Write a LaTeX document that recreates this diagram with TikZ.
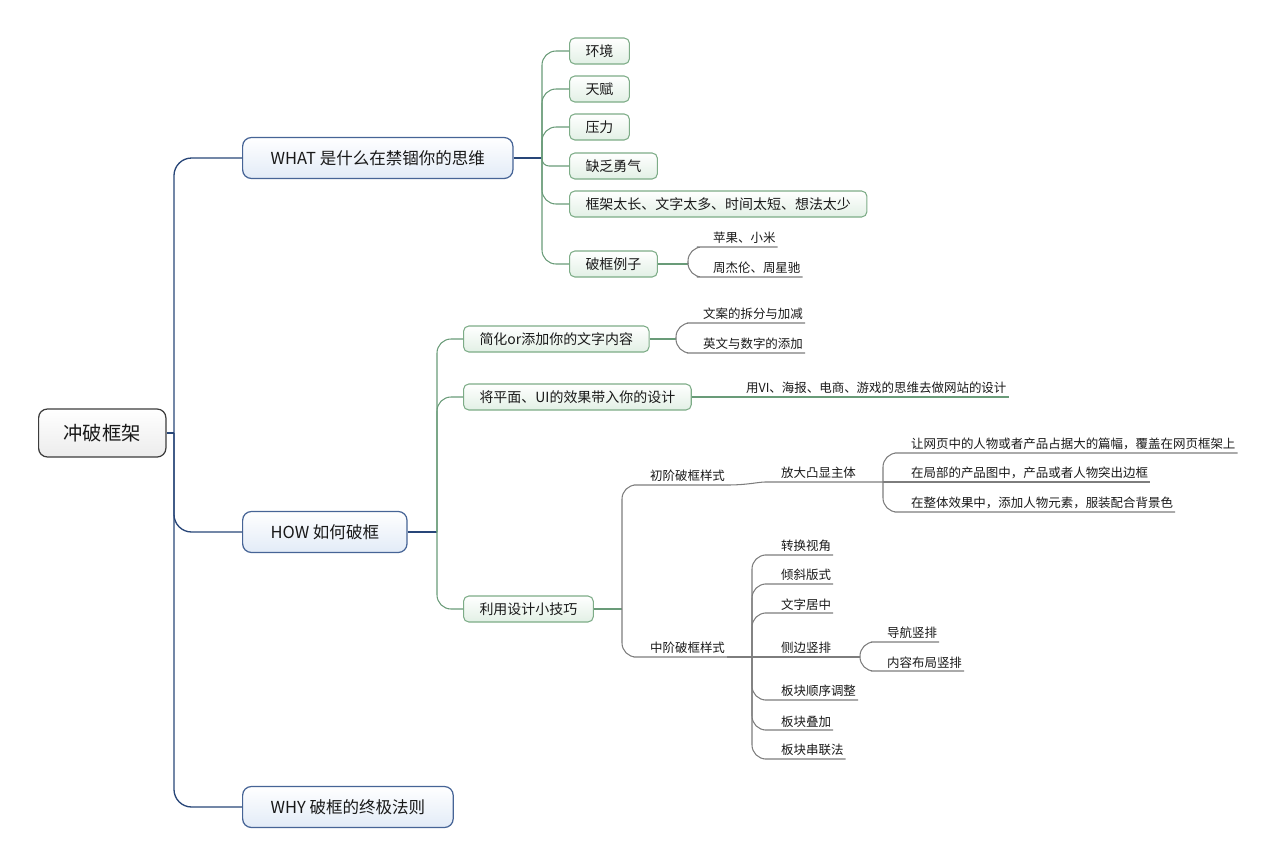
\documentclass[tikz,border=0pt]{standalone}
\usepackage{fontspec}
\setmainfont{Noto Sans CJK SC}
\usepackage{xcolor}
\usepackage{tikz}

\definecolor{rootline}{RGB}{60,60,60}
\definecolor{rootfill}{RGB}{236,236,236}
\definecolor{topicline}{RGB}{70,100,150}
\definecolor{topicfill}{RGB}{226,235,247}
\definecolor{subline}{RGB}{125,172,135}
\definecolor{subfill}{RGB}{226,240,229}
\definecolor{bluewire}{RGB}{40,70,120}
\definecolor{greenwire}{RGB}{105,155,120}
\definecolor{graywire}{RGB}{125,125,125}
\definecolor{inktext}{RGB}{25,25,25}

\begin{document}
\begin{tikzpicture}[
    x=0.02cm, y=-0.02cm,
    % Styles
    rootbox/.style={rectangle, rounded corners=5pt, draw=rootline, line width=0.7pt, top color=white, bottom color=rootfill, minimum height=0.96cm, inner xsep=0.5cm, text=inktext, font=\fontsize{11}{13}\selectfont, anchor=west},
    topic/.style={rectangle, rounded corners=5pt, draw=topicline, line width=0.7pt, top color=white, bottom color=topicfill, minimum height=0.82cm, inner xsep=0.56cm, text=inktext, font=\fontsize{9.4}{11}\selectfont, anchor=west},
    subtopic/.style={rectangle, rounded corners=3pt, draw=subline, line width=0.6pt, top color=white, bottom color=subfill, minimum height=0.52cm, inner xsep=0.32cm, text=inktext, font=\fontsize{7.95}{9}\selectfont, anchor=west},
    leaf/.style={inner xsep=1pt, inner ysep=1.5pt, text=inktext, font=\fontsize{7.1}{8.5}\selectfont, anchor=south west},
    bluelink/.style={draw=bluewire, line width=0.75pt, rounded corners=10pt},
    greenlink/.style={draw=greenwire, line width=0.6pt, rounded corners=8pt},
    graylink/.style={draw=graywire, line width=0.6pt, rounded corners=8pt},
]

\useasboundingbox (0,0) rectangle (1275,866);

% ===== ROOT AND MAIN TOPICS =====
\node[rootbox] (root) at (38,433) {冲破框架};
\coordinate (j0) at (174,433);

\node[topic] (what) at (242,158) {WHAT 是什么在禁锢你的思维};
\node[topic] (how) at (242,532) {HOW 如何破框};
\node[topic] (why) at (242,807) {WHY 破框的终极法则};

\draw[bluelink] (root.east) -- (j0);
\draw[bluelink] (j0) |- (what.west);
\draw[bluelink] (j0) |- (how.west);
\draw[bluelink] (j0) |- (why.west);

% ===== WHAT =====
\coordinate (j1) at (542,158);
\node[subtopic] (env) at (569,51) {环境};
\node[subtopic] (talent) at (569,89) {天赋};
\node[subtopic] (pressure) at (569,127) {压力};
\node[subtopic] (courage) at (569,166) {缺乏勇气};
\node[subtopic] (limits) at (569,204) {框架太长、文字太多、时间太短、想法太少};
\node[subtopic] (cases) at (569,264) {破框例子};

\draw[bluelink] (what.east) -- (j1);
\draw[greenlink] (j1) |- (env.west);
\draw[greenlink] (j1) |- (talent.west);
\draw[greenlink] (j1) |- (pressure.west);
\draw[greenlink, rounded corners=4pt] (j1) |- (courage.west);
\draw[greenlink] (j1) |- (limits.west);
\draw[greenlink] (j1) |- (cases.west);

% examples
\coordinate (j2) at (688,264);
\node[leaf] (apple) at (711,247) {苹果、小米};
\node[leaf] (stars) at (711,277) {周杰伦、周星驰};
\draw[greenlink] (cases.east) -- (j2);
\draw[graylink] (j2) |- (apple.south west) -- (apple.south east);
\draw[graylink] (j2) |- (stars.south west) -- (stars.south east);

% ===== HOW =====
\coordinate (j3) at (437,532);
\node[subtopic] (simplify) at (463,339) {简化or添加你的文字内容};
\node[subtopic] (transfer) at (463,397) {将平面、UI的效果带入你的设计};
\node[subtopic] (tricks) at (463,609) {利用设计小技巧};

\draw[bluelink] (how.east) -- (j3);
\draw[greenlink] (j3) |- (simplify.west);
\draw[greenlink] (j3) |- (transfer.west);
\draw[greenlink] (j3) |- (tricks.west);

% copy text
\coordinate (j4) at (676,339);
\node[leaf] (split) at (701,323) {文案的拆分与加减};
\node[leaf] (latin) at (701,353) {英文与数字的添加};
\draw[greenlink] (simplify.east) -- (j4);
\draw[graylink] (j4) |- (split.south west) -- (split.south east);
\draw[graylink] (j4) |- (latin.south west) -- (latin.south east);

% other media
\node[leaf] (media) at (744,397) {用VI、海报、电商、游戏的思维去做网站的设计};
\draw[greenlink] (transfer.east) -- (media.south west) -- (media.south east);

% small tricks
\coordinate (j5) at (622,609);
\node[leaf] (basic) at (648,485) {初阶破框样式};
\node[leaf] (middle) at (648,657) {中阶破框样式};
\draw[greenlink] (tricks.east) -- (j5);
\draw[graylink] (j5) |- (basic.south west) -- (basic.south east);
\draw[graylink] (j5) |- (middle.south west) -- (middle.south east);

% basic style
\node[leaf] (enlarge) at (779,482) {放大凸显主体};
\coordinate (j6) at (883,482);
\node[leaf] (cover) at (909,453) {让网页中的人物或者产品占据大的篇幅，覆盖在网页框架上};
\node[leaf] (outside) at (909,482) {在局部的产品图中，产品或者人物突出边框};
\node[leaf] (outfit) at (909,512) {在整体效果中，添加人物元素，服装配合背景色};
\draw[graylink] (basic.south east) to[out=0, in=180] (enlarge.south west) -- (j6);
\draw[graylink] (j6) |- (cover.south west) -- (cover.south east);
\draw[graylink] (j6) -- (outside.south west) -- (outside.south east);
\draw[graylink] (j6) |- (outfit.south west) -- (outfit.south east);

% middle style
\coordinate (j7) at (752,657);
\node[leaf] (angle) at (779,555) {转换视角};
\node[leaf] (tilt) at (779,584) {倾斜版式};
\node[leaf] (center) at (779,613) {文字居中};
\node[leaf] (side) at (779,657) {侧边竖排};
\node[leaf] (order) at (779,700) {板块顺序调整};
\node[leaf] (stack) at (779,730) {板块叠加};
\node[leaf] (chain) at (779,759) {板块串联法};
\draw[graylink] (middle.south east) -- (j7);
\draw[graylink] (j7) |- (angle.south west) -- (angle.south east);
\draw[graylink] (j7) |- (tilt.south west) -- (tilt.south east);
\draw[graylink] (j7) |- (center.south west) -- (center.south east);
\draw[graylink] (j7) -- (side.south west) -- (side.south east);
\draw[graylink] (j7) |- (order.south west) -- (order.south east);
\draw[graylink] (j7) |- (stack.south west) -- (stack.south east);
\draw[graylink] (j7) |- (chain.south west) -- (chain.south east);

% side layout
\coordinate (j8) at (860,657);
\node[leaf] (nav) at (885,642) {导航竖排};
\node[leaf] (content) at (885,671) {内容布局竖排};
\draw[graylink] (side.south east) -- (j8);
\draw[graylink] (j8) |- (nav.south west) -- (nav.south east);
\draw[graylink] (j8) |- (content.south west) -- (content.south east);

\end{tikzpicture}
\end{document}
